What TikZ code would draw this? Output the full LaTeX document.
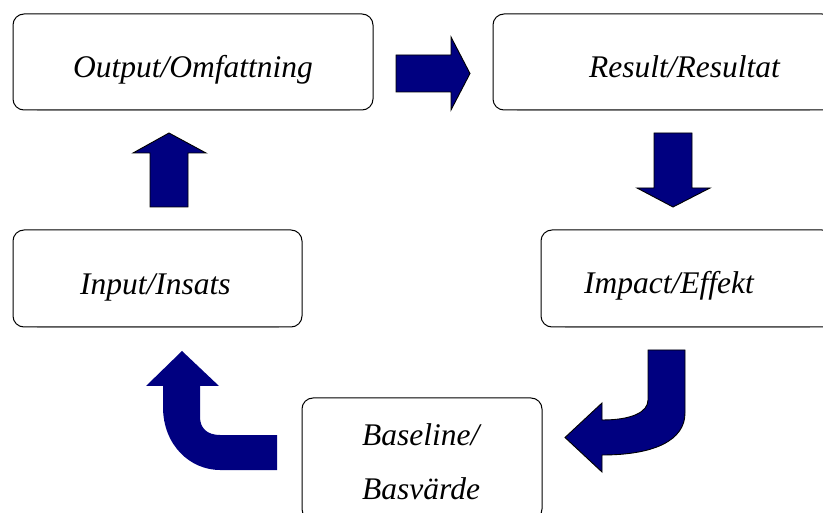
\documentclass[tikz,border=0pt]{standalone}
\usepackage{fontspec}
\setmainfont{Liberation Serif}
\definecolor{navyblue}{RGB}{0,0,128}
\tikzset{
  box/.style={draw, line width=1pt, rounded corners=11pt, inner sep=0pt},
  lbl/.style={anchor=base west, inner sep=0pt, font=\fontsize{31.5}{37}\selectfont\itshape},
  blockarrow/.style={fill=navyblue, draw=black, line width=0.9pt, line join=miter}
}
\begin{document}
\begin{tikzpicture}[x=1pt,y=-1pt]
  \useasboundingbox (0,0) rectangle (823,513);
  \clip (0,0) rectangle (823,513);
  \node[box, minimum width=360pt, minimum height=96pt] (output) at (193,62) {};
  \node[box, minimum width=340pt, minimum height=96pt] (result) at (663,62) {};
  \node[box, minimum width=289pt, minimum height=97pt] (input) at (157.5,278.5) {};
  \node[box, minimum width=292pt, minimum height=97pt] (impact) at (687,278.5) {};
  \node[box, minimum width=240pt, minimum height=122pt] (baseline) at (422,459) {};
  \foreach \b in {output,result,input,impact} {
    \draw[white, line width=1.6pt] ([xshift=24pt]\b.south west) -- ([xshift=-24pt]\b.south east);
    \draw[gray, line width=0.5pt] ([xshift=24pt]\b.south west) -- ([xshift=-24pt]\b.south east);
  }
  \node[lbl] (outputtxt) at (73,78) {Output/Omfattning};
  \node[lbl] (resulttxt) at (589,78) {Result/Resultat};
  \node[lbl] (inputtxt) at (80,295) {Input/Insats};
  \node[lbl] (impacttxt) at (584,294) {Impact/Effekt};
  \node[lbl] (baselinetxt) at (362,446) {Baseline/};
  \node[lbl] (basvardetxt) at (362,499) {Basvärde};
  \draw[blockarrow] (396,55) -- (451,55) -- (451,37) -- (470,73.5) -- (451,110) -- (451,92) -- (396,92) -- cycle;
  \draw[blockarrow] (654,133) -- (692,133) -- (692,188) -- (710,188) -- (673,207) -- (637,188) -- (654,188) -- cycle;
  \draw[blockarrow] (150,207) -- (150,153) -- (133,153) -- (169,133) -- (206,153) -- (188,153) -- (188,207) -- cycle;
  \draw[blockarrow] (648,350) -- (685,350) -- (685,413) .. controls (685,440) and (655,455) .. (602,455)
    -- (602,472) -- (565,437.5) -- (602,403) -- (602,420) .. controls (632,420) and (648,412) .. (648,400) -- cycle;
  \fill[navyblue] (277,435) -- (220,435) .. controls (207,435) and (200,428) .. (200,417) -- (200,386) -- (219,386)
    -- (182,351) -- (146,386) -- (163,386) -- (163,407) .. controls (163,445) and (190,470) .. (220,470) -- (277,470) -- cycle;
\end{tikzpicture}
\end{document}
